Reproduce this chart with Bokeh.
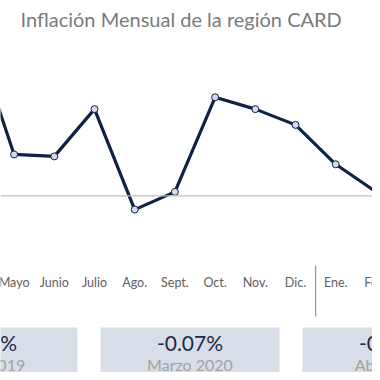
from bokeh.plotting import figure
from bokeh.models import Range1d, Span
from bokeh.core.properties import value
from bokeh.embed import file_html
from bokeh.resources import INLINE

# ---- data ----
months = ["Abril", "Mayo", "Junio", "Julio", "Ago.", "Sept.", "Oct.", "Nov.",
          "Dic.", "Ene.", "Feb.", "Mar."]
inflation = [0.82, 0.21, 0.20, 0.44, -0.07, 0.02, 0.50, 0.44, 0.36, 0.16, 0.02, -0.07]
box_values = ["0.82%", "-0.07%", "-0.10%"]
box_periods = ["Abril 2019", "Marzo 2020", "Abril 2020"]
title_text = "Inflación Mensual de la región CARD"

# ---- layout helpers (picture pixels -> data coords) ----
W = H = 372
OFF = 0
SPX = 40.2          # px per month
KPY = 197.0         # px per 1 %
x0 = 1 - (13.6 - OFF) / SPX
x1 = x0 + W / SPX
y1 = (195.3 - OFF) / KPY
y0 = y1 - H / KPY


def px_x(px):
    return x0 + (px - OFF) / SPX


def px_y(py):
    return y1 - (py - OFF) / KPY


xs = list(range(len(months)))

p = figure(width=W, height=H, output_backend="svg", toolbar_location=None,
           x_range=Range1d(x0, x1), y_range=Range1d(y0, y1), min_border=0)
p.axis.visible = False
p.grid.visible = False
p.outline_line_color = None
p.background_fill_color = "white"
p.border_fill_color = "white"

FONT = value("Lato")

# title
p.text(x=[px_x(20)], y=[px_y(18)], text=[title_text], text_font=FONT,
       text_font_size="20px", text_color="#7a7a7a", text_align="left",
       text_baseline="middle")

# zero line
p.add_layout(Span(location=0, dimension="width", line_color="#c0c0c0", line_width=1.2))

# series
p.line(xs, inflation, line_color="#0e2244", line_width=3.2, line_join="round")
p.scatter(xs, inflation, size=7, fill_color="#d3dbeb", line_color="#0e2244", line_width=1)

# month labels (only those inside the visible window)
vis = [i for i in xs if x0 - 0.3 < i < x1 + 0.3]
p.text(x=vis, y=[px_y(282)] * len(vis), text=[months[i] for i in vis], text_font=FONT,
       text_font_size="12.5px", text_color="#606060", text_align="center",
       text_baseline="middle")

# year separator (between Dic. and Ene.)
sep_x = (months.index("Dic.") + months.index("Ene.")) / 2
p.segment(x0=[sep_x], y0=[px_y(265)], x1=[sep_x], y1=[px_y(316)],
          line_color="#9a9a9a", line_width=1.3)

# summary boxes
box_w = 179
box_lefts = [-102, 100, 302]
lefts = [px_x(b) for b in box_lefts]
rights = [px_x(b + box_w) for b in box_lefts]
centers = [px_x(b + box_w / 2) for b in box_lefts]
p.quad(left=lefts, right=rights, top=[px_y(327)] * 3, bottom=[px_y(400)] * 3,
       fill_color="#d8dee7", line_color=None)
p.text(x=centers, y=[px_y(342)] * 3, text=box_values, text_font=FONT,
       text_font_size="21px", text_color="#1b2a4a", text_align="center",
       text_baseline="middle")
p.text(x=centers, y=[px_y(364)] * 3, text=box_periods, text_font=FONT,
       text_font_size="16px", text_color="#a2a2a2", text_align="center",
       text_baseline="middle")

open("out.html", "w").write(file_html(p, INLINE))
